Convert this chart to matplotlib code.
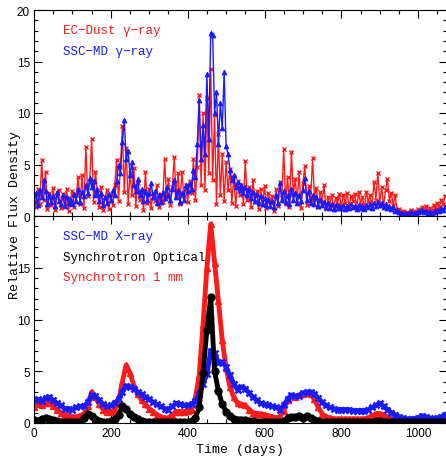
import numpy as np
import matplotlib
matplotlib.use("Agg")
import matplotlib.pyplot as plt
from matplotlib.ticker import MultipleLocator

# gamma-ray light curves, sampled every 5 days (0 .. 1070)
gamma_days = np.arange(0, 1075, 5)
ec_dust_gamma = [
    1.8, 0.9, 2.6, 1.2, 5.4, 1.6, 4.3, 0.7, 2.2, 1.1,
    2.7, 0.6, 1.9, 2.5, 0.8, 2.1, 1.3, 2.6, 0.5, 1.7,
    2.4, 0.9, 2.0, 3.8, 1.2, 4.0, 0.8, 6.7, 1.9, 3.3,
    7.5, 1.4, 4.3, 2.2, 0.9, 2.8, 0.6, 1.8, 2.5, 0.7,
    2.0, 1.1, 3.0, 5.4, 1.5, 4.8, 8.7, 2.3, 6.6, 1.2,
    4.2, 2.0, 4.7, 1.0, 3.2, 1.6, 2.4, 0.6, 4.3, 1.3,
    2.6, 0.8, 2.2, 1.5, 3.0, 0.9, 2.1, 1.4, 5.5, 1.8,
    3.6, 1.1, 2.8, 5.7, 2.0, 4.2, 1.2, 4.3, 1.9, 3.0,
    1.4, 3.4, 2.2, 5.5, 1.6, 4.8, 11.7, 3.0, 10.0, 2.5,
    11.5, 4.2, 14.3, 3.5, 9.8, 1.2, 8.0, 2.0, 6.0, 1.5,
    5.2, 2.5, 4.6, 1.3, 3.8, 1.0, 3.4, 2.0, 3.0, 1.2,
    5.3, 1.6, 2.8, 0.9, 3.5, 1.4, 2.4, 0.7, 2.6, 1.1,
    2.9, 0.8, 2.2, 1.4, 1.9, 0.5, 2.6, 1.0, 3.3, 1.7,
    6.5, 1.2, 3.8, 0.9, 6.2, 2.1, 3.6, 1.3, 4.3, 0.8,
    3.2, 4.9, 1.1, 2.9, 1.6, 5.6, 1.9, 2.7, 0.9, 2.3,
    1.4, 3.0, 0.7, 1.8, 1.1, 2.0, 0.8, 1.7, 1.2, 2.1,
    0.9, 2.0, 1.3, 2.2, 1.0, 1.9, 1.5, 2.1, 0.9, 2.3,
    1.2, 1.8, 0.8, 2.3, 1.4, 2.0, 1.0, 3.3, 1.6, 4.2,
    1.3, 2.8, 1.0, 2.5, 3.6, 1.5, 2.2, 1.1, 2.0, 0.6,
    0.7, 0.3, 0.5, 0.2, 0.4, 0.3, 0.6, 0.2, 0.5, 0.4,
    0.7, 0.5, 0.9, 0.6, 1.0, 0.5, 0.8, 0.6, 1.1, 0.8,
    1.3, 0.9, 1.6, 1.2, 1.9,
]
ssc_md_gamma = [
    1.5, 2.2, 1.1, 2.5, 1.8, 3.5, 2.4, 1.2, 2.0, 1.4,
    1.9, 1.0, 2.3, 1.5, 1.2, 2.0, 1.0, 1.8, 1.3, 1.6,
    1.2, 2.1, 1.5, 2.6, 1.4, 2.3, 1.9, 3.0, 2.2, 3.7,
    2.8, 3.4, 2.0, 2.6, 1.5, 2.2, 1.1, 1.8, 1.3, 2.1,
    1.6, 2.5, 2.0, 3.4, 5.0, 4.2, 7.2, 9.3, 5.5, 6.3,
    4.0, 5.2, 3.0, 2.4, 3.6, 2.0, 2.6, 1.5, 2.4, 1.6,
    2.2, 3.2, 1.8, 2.4, 1.3, 2.0, 1.4, 2.3, 1.7, 2.8,
    2.0, 1.6, 2.6, 3.5, 1.8, 2.5, 1.4, 2.2, 1.6, 3.0,
    2.4, 3.2, 2.6, 4.5, 3.8, 7.0, 11.3, 5.5, 8.8, 6.0,
    13.8, 7.5, 17.8, 17.6, 10.0, 12.0, 7.0, 11.0, 8.5, 14.0,
    6.8, 6.0, 4.5, 3.5, 4.0, 2.8, 3.3, 2.5, 3.0, 2.2,
    2.8, 2.0, 2.6, 1.7, 2.3, 1.5, 2.1, 1.3, 1.9, 1.2,
    1.7, 1.1, 1.6, 1.0, 1.5, 0.9, 2.0, 1.3, 3.2, 1.6,
    2.4, 1.4, 2.0, 1.2, 2.6, 1.6, 2.2, 1.3, 2.0, 1.5,
    2.5, 3.7, 1.6, 2.4, 1.3, 2.0, 1.2, 1.8, 1.0, 1.6,
    1.1, 1.4, 0.9, 1.3, 0.8, 1.2, 0.7, 1.1, 0.8, 1.0,
    0.8, 1.1, 0.7, 1.0, 0.8, 1.2, 0.9, 1.0, 0.7, 1.1,
    0.8, 1.0, 0.7, 1.1, 0.9, 1.2, 0.8, 1.3, 1.0, 1.4,
    1.1, 1.3, 0.9, 1.2, 0.8, 1.0, 0.7, 0.9, 0.5, 0.6,
    0.4, 0.3, 0.2, 0.3, 0.2, 0.3, 0.4, 0.2, 0.3, 0.3,
    0.4, 0.5, 0.6, 0.4, 0.5, 0.3, 0.4, 0.3, 0.4, 0.5,
    0.6, 0.5, 0.8, 0.6, 0.9,
]

# smooth light curves, sampled every 10 days (0 .. 1070)
smooth_days = np.arange(0, 1080, 10)
ssc_md_xray = [
    2.2, 2.3, 2.1, 2.4, 2.5, 2.2, 1.9, 1.7, 1.4, 1.4,
    1.3, 1.5, 1.6, 1.6, 2.0, 2.7, 2.6, 2.2, 1.8, 1.6,
    1.7, 1.9, 2.3, 3.0, 3.6, 3.5, 3.3, 3.0, 2.8, 2.5,
    2.3, 2.0, 1.8, 1.6, 1.4, 1.3, 1.6, 1.9, 1.8, 1.7,
    1.7, 1.8, 2.1, 2.8, 3.8, 4.7, 7.0, 6.8, 5.8, 5.9,
    5.4, 4.6, 3.8, 3.2, 3.5, 3.3, 2.9, 2.5, 2.2, 1.9,
    1.8, 1.7, 1.6, 1.5, 1.3, 1.7, 2.3, 2.7, 2.6, 2.6,
    2.9, 3.0, 3.0, 2.8, 2.4, 2.0, 1.7, 1.5, 1.4, 1.3,
    1.3, 1.3, 1.3, 1.2, 1.2, 1.2, 1.2, 1.3, 1.5, 1.7,
    1.9, 1.6, 1.3, 1.0, 0.8, 0.6, 0.5, 0.4, 0.4, 0.4,
    0.5, 0.7, 0.6, 0.5, 0.4, 0.5, 0.6, 0.8,
]
sync_optical = [
    0.3, 0.2, 0.4, 0.5, 0.4, 0.3, 0.2, 0.1, 0.05, 0.05,
    0.05, 0.05, 0.1, 0.5, 0.9, 0.7, 0.4, 0.2, 0.1, 0.1,
    0.2, 0.4, 0.8, 1.6, 1.4, 0.9, 0.6, 0.4, 0.2, 0.1,
    0.05, 0.05, 0.05, 0.05, 0.05, 0.05, 0.05, 0.05, 0.05, 0.05,
    0.1, 0.2, 0.5, 1.5, 4.8, 9.0, 12.2, 5.0, 3.1, 1.8,
    1.1, 0.7, 0.4, 0.3, 0.3, 0.3, 0.2, 0.2, 0.1, 0.1,
    0.1, 0.1, 0.1, 0.1, 0.1, 0.2, 0.5, 0.6, 0.6, 0.7,
    0.5, 0.7, 0.5, 0.3, 0.2, 0.1, 0.05, 0.05, 0.05, 0.05,
    0.05, 0.05, 0.05, 0.05, 0.05, 0.05, 0.05, 0.05, 0.1, 0.2,
    0.2, 0.1, 0.05, 0.05, 0.05, 0.05, 0.05, 0.05, 0.05, 0.05,
    0.05, 0.05, 0.05, 0.05, 0.05, 0.05, 0.05, 0.05,
]
sync_1mm = [
    1.5, 1.8, 1.7, 1.9, 1.9, 1.6, 1.3, 1.0, 0.8, 0.7,
    0.6, 0.6, 0.7, 0.9, 1.6, 3.0, 2.5, 1.8, 1.3, 1.1,
    1.1, 1.3, 2.0, 4.0, 5.6, 4.8, 3.6, 2.8, 2.2, 1.8,
    1.4, 1.1, 0.8, 0.6, 0.5, 0.5, 0.8, 1.1, 1.1, 1.1,
    1.2, 1.3, 2.4, 4.6, 9.5, 15.0, 19.2, 15.5, 11.8, 8.0,
    5.3, 3.5, 2.5, 1.9, 1.8, 1.7, 1.3, 1.0, 0.9, 0.9,
    0.8, 0.7, 0.6, 0.5, 0.6, 1.2, 2.2, 2.6, 2.5, 2.7,
    2.8, 2.9, 2.8, 2.3, 1.5, 0.9, 0.6, 0.5, 0.4, 0.4,
    0.4, 0.4, 0.4, 0.4, 0.4, 0.4, 0.4, 0.5, 0.7, 0.9,
    0.9, 0.8, 0.6, 0.4, 0.3, 0.2, 0.1, 0.1, 0.1, 0.1,
    0.1, 0.2, 0.2, 0.1, 0.1, 0.2, 0.2, 0.3,
]

RED = "#ff1a1a"
BLUE = "#1a1aff"
mono = "Liberation Mono"

fig = plt.figure(figsize=(4.46, 4.60), dpi=100)
left, right = 34 / 446, 447 / 446
ax1 = fig.add_axes([left, 1 - 217 / 460, right - left, 206 / 460])
ax2 = fig.add_axes([left, 1 - 424 / 460, right - left, 207 / 460])

ax1.plot(gamma_days, ec_dust_gamma, color=RED, lw=1.0, marker="x",
         ms=3.5, mew=1.0)
ax1.plot(gamma_days, ssc_md_gamma, color=BLUE, lw=1.0, marker="^",
         ms=3.5, mew=0.6)

ax2.plot(smooth_days, sync_1mm, color=RED, lw=3.5, marker="^", ms=5)
ax2.plot(smooth_days, ssc_md_xray, color=BLUE, lw=3.5, marker="x",
         ms=5, mew=1.8)
ax2.plot(smooth_days, sync_optical, color="black", lw=3.5, marker="o", ms=5)

for ax in (ax1, ax2):
    ax.set_xlim(0, 1075)
    ax.set_ylim(0, 20)
    ax.xaxis.set_major_locator(MultipleLocator(200))
    ax.xaxis.set_minor_locator(MultipleLocator(50))
    ax.yaxis.set_major_locator(MultipleLocator(5))
    ax.yaxis.set_minor_locator(MultipleLocator(1))
    ax.tick_params(which="both", direction="in", top=True, right=True,
                   width=0.8, labelsize=8.5, labelfontfamily="Liberation Sans")
    ax.tick_params(which="major", length=6, pad=3)
    ax.tick_params(which="minor", length=3)
    for sp in ax.spines.values():
        sp.set_linewidth(0.8)

ax1.tick_params(labelbottom=False)
ax2.set_yticks([0, 5, 10, 15])

ax1.text(0.07, 0.903, "EC\u2212Dust \u03b3\u2212ray", color=RED, family=mono,
         fontsize=9, va="center", transform=ax1.transAxes)
ax1.text(0.07, 0.80, "SSC\u2212MD \u03b3\u2212ray", color=BLUE, family=mono,
         fontsize=9, va="center", transform=ax1.transAxes)
ax2.text(0.07, 0.903, "SSC\u2212MD X\u2212ray", color=BLUE, family=mono,
         fontsize=9, va="center", transform=ax2.transAxes)
ax2.text(0.07, 0.80, "Synchrotron Optical", color="black", family=mono,
         fontsize=9, va="center", transform=ax2.transAxes)
ax2.text(0.07, 0.705, "Synchrotron 1 mm", color=RED, family=mono,
         fontsize=9, va="center", transform=ax2.transAxes)

ax2.set_xlabel("Time (days)", family=mono, fontsize=9.5, labelpad=3)
fig.text(15 / 446, 1 - 215 / 460, "Relative Flux Density", family=mono,
         fontsize=9.5, rotation=90, ha="center", va="center")

fig.savefig("out.png", dpi=100)
